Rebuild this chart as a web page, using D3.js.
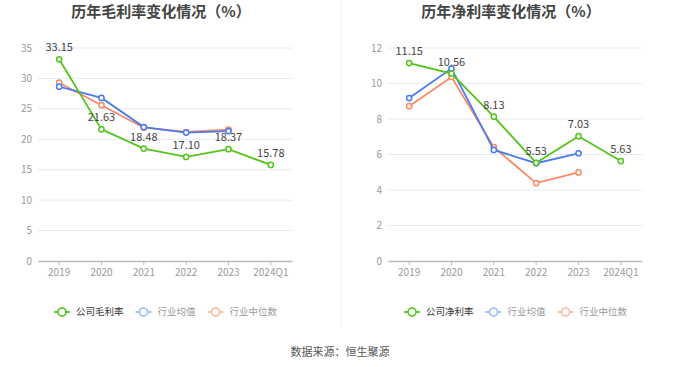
<!DOCTYPE html>
<html>
<head>
<meta charset="utf-8">
<script src="https://cdn.jsdelivr.net/npm/d3@7"></script>
<style>
  body { margin: 0; background: #fff; }
  svg { display: block; font-family: "Noto Sans CJK SC", "Noto Sans", sans-serif; }
</style>
</head>
<body>
<div id="vis"></div>
<script>
var width = 680,
    height = 367;

var years = ["2019", "2020", "2021", "2022", "2023", "2024Q1"];

// gross margin (%)
var grossCompany = [33.15, 21.63, 18.48, 17.10, 18.37, 15.78];
var grossAvg = [28.64, 26.80, 22.00, 21.10, 21.35];
var grossMedian = [29.30, 25.60, 21.90, 21.20, 21.60];
var grossTicks = [0, 5, 10, 15, 20, 25, 30, 35];

// net margin (%)
var netCompany = [11.15, 10.56, 8.13, 5.53, 7.03, 5.63];
var netAvg = [9.18, 10.84, 6.26, 5.51, 6.07];
var netMedian = [8.72, 10.37, 6.41, 4.39, 4.99];
var netTicks = [0, 2, 4, 6, 8, 10, 12];

var green = "#52c41a",
    blue = "#4a7cf0",
    orange = "#fa8a62";

var svg = d3.select("#vis").append("svg")
    .attr("width", width)
    .attr("height", height);

// divider
svg.append("line")
    .attr("x1", 341).attr("x2", 341)
    .attr("y1", 0).attr("y2", 326)
    .attr("stroke", "#f0f0f0")
    .attr("stroke-width", 1);

function drawChart(opt) {
  var g = svg.append("g");

  var x = d3.scaleBand()
      .domain(years)
      .range([opt.left, opt.left + 254]);

  var y = d3.scaleLinear()
      .domain([0, opt.max])
      .range([261, 48]);

  // title
  g.append("text")
      .attr("x", opt.titleX)
      .attr("y", 17)
      .attr("text-anchor", "middle")
      .style("font-size", "15px")
      .style("font-weight", "bold")
      .style("fill", "#444")
      .text(opt.title);

  // grid
  g.selectAll("line.grid")
      .data(opt.ticks.filter(function(d) { return d > 0; }))
      .enter()
      .append("line")
      .attr("class", "grid")
      .attr("x1", opt.left)
      .attr("x2", opt.left + 254)
      .attr("y1", function(d) { return y(d); })
      .attr("y2", function(d) { return y(d); })
      .attr("stroke", "#e6eaf4")
      .attr("stroke-width", 1);

  // y labels
  g.selectAll("text.ylab")
      .data(opt.ticks)
      .enter()
      .append("text")
      .attr("class", "ylab")
      .attr("x", opt.left - 6)
      .attr("y", function(d) { return y(d); })
      .attr("dy", "0.35em")
      .attr("text-anchor", "end")
      .style("font-size", "10px")
      .style("fill", "#999")
      .text(function(d) { return d; });

  // x axis
  var xAxis = g.append("g")
      .attr("transform", "translate(0,261)")
      .call(d3.axisBottom(x).tickSize(4).tickSizeOuter(0).tickPadding(4));
  xAxis.select(".domain").attr("stroke", "#bbb").attr("stroke-width", 1.5);
  xAxis.selectAll(".tick line").attr("stroke", "#bbb");
  xAxis.selectAll(".tick text")
      .style("font-size", "10px")
      .style("fill", "#999")
      .style("font-family", "'Noto Sans CJK SC', sans-serif");

  var cx = function(d, i) { return x(years[i]) + x.bandwidth() / 2; };

  var line = d3.line()
      .x(cx)
      .y(function(d) { return y(d); });

  var series = [
    { values: opt.median, color: orange },
    { values: opt.avg, color: blue },
    { values: opt.company, color: green }
  ];

  series.forEach(function(s) {
    g.append("path")
        .datum(s.values)
        .attr("d", line)
        .attr("fill", "none")
        .attr("stroke", s.color)
        .attr("stroke-width", 1.8);

    g.selectAll(null)
        .data(s.values)
        .enter()
        .append("circle")
        .attr("cx", cx)
        .attr("cy", function(d) { return y(d); })
        .attr("r", 2.6)
        .attr("fill", "#fff")
        .attr("stroke", s.color)
        .attr("stroke-width", 1.5);
  });

  // labels for the company series
  g.selectAll("text.vlab")
      .data(opt.company)
      .enter()
      .append("text")
      .attr("class", "vlab")
      .attr("x", cx)
      .attr("y", function(d) { return y(d) - 8; })
      .attr("text-anchor", "middle")
      .style("font-size", "11px")
      .style("fill", "#444")
      .text(function(d) { return d.toFixed(2); });

  // legend
  var items = [
    { name: opt.companyName, color: green, icon: green, text: "#333" },
    { name: "行业均值", color: blue, icon: "#9db9f7", text: "#999" },
    { name: "行业中位数", color: orange, icon: "#fcb8a0", text: "#999" }
  ];
  var lx = opt.legendX,
      ly = 312;
  items.forEach(function(it) {
    var lg = g.append("g").attr("transform", "translate(" + lx + "," + ly + ")");
    lg.append("line")
        .attr("x1", 0).attr("x2", 16)
        .attr("y1", 0).attr("y2", 0)
        .attr("stroke", it.icon)
        .attr("stroke-width", 1.8);
    lg.append("circle")
        .attr("cx", 8).attr("cy", 0).attr("r", 4)
        .attr("fill", "#fff")
        .attr("stroke", it.icon)
        .attr("stroke-width", 1.6);
    var t = lg.append("text")
        .attr("x", 22)
        .attr("y", 0)
        .attr("dy", "0.35em")
        .style("font-size", "9.5px")
        .style("fill", it.text)
        .text(it.name);
    lx += 22 + t.node().getComputedTextLength() + 12;
  });
}

drawChart({
  left: 38, max: 35, ticks: grossTicks, titleX: 161,
  title: "历年毛利率变化情况（%）",
  company: grossCompany, avg: grossAvg, median: grossMedian,
  companyName: "公司毛利率", legendX: 54
});

drawChart({
  left: 388, max: 12, ticks: netTicks, titleX: 511,
  title: "历年净利率变化情况（%）",
  company: netCompany, avg: netAvg, median: netMedian,
  companyName: "公司净利率", legendX: 404
});

// source
svg.append("text")
    .attr("x", 340)
    .attr("y", 352)
    .attr("dy", "0.35em")
    .attr("text-anchor", "middle")
    .style("font-size", "11px")
    .style("fill", "#555")
    .text("数据来源：恒生聚源");
</script>
</body>
</html>
